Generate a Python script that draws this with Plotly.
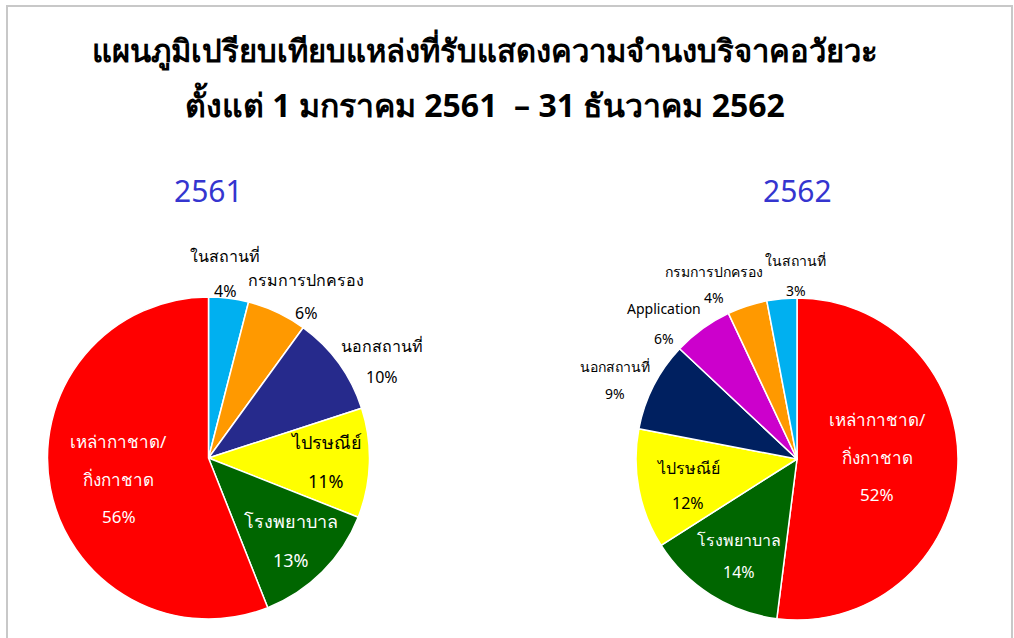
import numpy as np
import plotly.graph_objects as go

W, H = 1014, 638

# ---- data -------------------------------------------------------------
years = ["2561", "2562"]

cat_2561 = ["ในสถานที่", "กรมการปกครอง", "นอกสถานที่", "ไปรษณีย์",
            "โรงพยาบาล", "เหล่ากาชาด/\nกิ่งกาชาด"]
pct_2561 = [4, 6, 10, 11, 13, 56]

cat_2562 = ["เหล่ากาชาด/\nกิ่งกาชาด", "โรงพยาบาล", "ไปรษณีย์", "นอกสถานที่",
            "Application", "กรมการปกครอง", "ในสถานที่"]
pct_2562 = [52, 14, 12, 9, 6, 4, 3]

title_lines = ["แผนภูมิเปรียบเทียบแหล่งที่รับแสดงความจำนงบริจาคอวัยวะ",
               "ตั้งแต่ 1 มกราคม 2561  – 31 ธันวาคม 2562"]

# ---- styling ----------------------------------------------------------
col_2561 = ["#00B0F0", "#FF9900", "#262A8C", "#FFFF00", "#006600", "#FF0000"]
col_2562 = ["#FF0000", "#006600", "#FFFF00", "#002060", "#CC00CC", "#FF9900", "#00B0F0"]

FONT = "Tahoma, 'Noto Sans', sans-serif"

# pie boxes in pixels: left, top, right, bottom
box_2561 = (47, 297, 370, 619)
box_2562 = (636, 298, 958, 620)

# per-slice label placement: radius factor, angle shift (deg), font size,
# text colour, line gap (px)
lab_2561 = dict(rf=[1.15, 1.17, 1.23, 0.73, 0.72, 0.57],
                shift=[-2, 6, 7, 0, 0, -2.5],
                size=[16, 16, 16, 18, 18, 17],
                color=["black", "black", "black", "black", "white", "white"],
                gap=[35, 33, 31, 39, 39, 37.5])
lab_2562 = dict(rf=[0.50, 0.70, 0.70, 1.23, 1.18, 1.20, 1.14],
                shift=[-5, -1.5, -3, -3.5, -8.4, -7.5, 5],
                size=[17, 16, 16, 14, 14, 14, 14],
                color=["white", "white", "black", "black", "black", "black", "black"],
                gap=[37.5, 32, 35, 27, 30, 26, 30])


def px_to_paper(x, y):
    return x / W, 1 - y / H


def pie_trace(labels, values, colors, box, name):
    x0, y0 = px_to_paper(box[0], box[3])
    x1, y1 = px_to_paper(box[2], box[1])
    return go.Pie(
        labels=[l.replace("\n", " ") for l in labels],
        values=values,
        name=name,
        sort=False,
        direction="clockwise",
        rotation=0,
        textinfo="none",
        hole=0,
        marker=dict(colors=colors, line=dict(color="white", width=1.5)),
        domain=dict(x=[x0, x1], y=[y0, y1]),
        showlegend=False,
    )


def slice_labels(labels, values, box, st):
    """Annotations placed along each slice's mid-angle."""
    cx = (box[0] + box[2]) / 2
    cy = (box[1] + box[3]) / 2
    R = (box[2] - box[0]) / 2
    vals = np.asarray(values, dtype=float)
    ends = np.cumsum(vals) / vals.sum() * 360
    starts = ends - vals / vals.sum() * 360
    mids = (starts + ends) / 2
    anns = []
    for i, (lab, v) in enumerate(zip(labels, values)):
        a = np.deg2rad(mids[i] + st["shift"][i])
        r = R * st["rf"][i]
        px = cx + r * np.sin(a)
        py = cy - r * np.cos(a)
        lines = lab.split("\n") + [f"{v}%"]
        n = len(lines)
        for k, t in enumerate(lines):
            off = (k - (n - 1) / 2) * st["gap"][i]
            x, y = px_to_paper(px, py + off)
            anns.append(dict(
                x=x, y=y, xref="paper", yref="paper", text=t, showarrow=False,
                xanchor="center", yanchor="middle",
                font=dict(family=FONT, size=st["size"][i], color=st["color"][i]),
            ))
    return anns


fig = go.Figure()
fig.add_trace(pie_trace(cat_2561, pct_2561, col_2561, box_2561, years[0]))
fig.add_trace(pie_trace(cat_2562, pct_2562, col_2562, box_2562, years[1]))

annotations = []
annotations += slice_labels(cat_2561, pct_2561, box_2561, lab_2561)
annotations += slice_labels(cat_2562, pct_2562, box_2562, lab_2562)

# chart title
for t, ty, fs in zip(title_lines, [50, 104], [31, 32]):
    x, y = px_to_paper(485, ty)
    annotations.append(dict(
        x=x, y=y, xref="paper", yref="paper", text=f"<b>{t}</b>", showarrow=False,
        xanchor="center", yanchor="middle",
        font=dict(family=FONT, size=fs, color="black"),
    ))

# year headings above each pie
for yr, box in zip(years, [box_2561, box_2562]):
    x, y = px_to_paper((box[0] + box[2]) / 2, 190)
    annotations.append(dict(
        x=x, y=y, xref="paper", yref="paper", text=yr, showarrow=False,
        xanchor="center", yanchor="middle",
        font=dict(family=FONT, size=30, color="#3535CF"),
    ))

# thin grey frame
bx0, by0 = px_to_paper(7, 6)
bx1, by1 = px_to_paper(1012, 645)
fig.add_shape(type="rect", xref="paper", yref="paper",
              x0=bx0, y0=by1, x1=bx1, y1=by0,
              line=dict(color="#C8C8C8", width=2))

fig.update_layout(
    width=W, height=H,
    margin=dict(l=0, r=0, t=0, b=0),
    paper_bgcolor="white",
    plot_bgcolor="white",
    annotations=annotations,
)

fig.write_html("out.html")
